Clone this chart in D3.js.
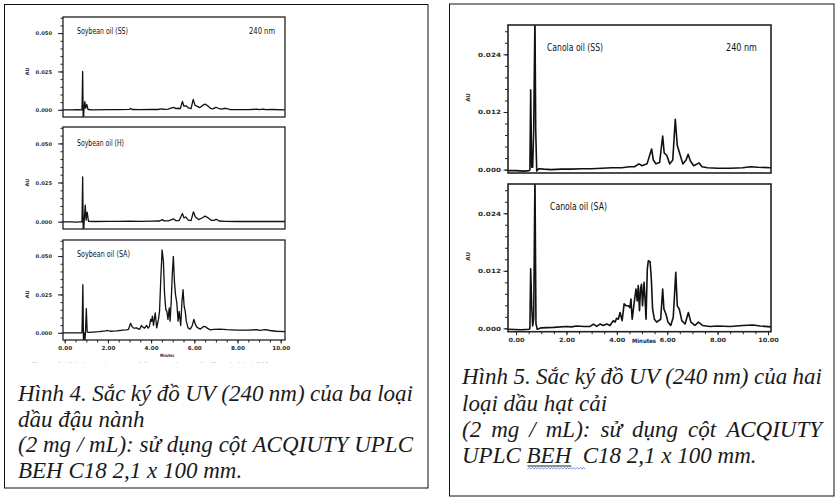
<!DOCTYPE html>
<html>
<head>
<meta charset="utf-8">
<script src="https://cdn.jsdelivr.net/npm/d3@7"></script>
<style>
  body { margin: 0; background: #fff; }
  svg { display: block; }
</style>
</head>
<body>
<script>
// ---- data (time in minutes, absorbance in AU) ----
const soyYMajor = [0, 0.025, 0.05];
const canYMajor = [0, 0.012, 0.024];
const xMajor = [0, 2, 4, 6, 8, 10];

const soySS = [[-0.08,0],[0.3,0],[0.6,0.0001],[0.8,0],[0.83,0.025],[0.86,-0.01],[0.89,0],[0.93,0.0053],
  [0.97,0.001],[1.02,0.0035],[1.08,0.0002],[1.3,0],[2.0,0.0001],[2.5,0.0001],[3.0,0.0003],[3.05,0.0009],
  [3.12,0.0002],[3.5,0.0001],[4.0,0.0002],[4.3,0.0002],[4.5,0.0006],[4.6,0.0003],[4.8,0.0004],[4.95,0.0012],
  [5.05,0.0016],[5.15,0.0008],[5.25,0.001],[5.35,0.0007],[5.45,0.0055],[5.52,0.0022],[5.62,0.0027],[5.72,0.0012],
  [5.85,0.0008],[5.95,0.0068],[6.03,0.003],[6.12,0.0024],[6.25,0.0014],[6.4,0.003],[6.5,0.0037],[6.62,0.0026],
  [6.75,0.001],[6.85,0.0006],[7.0,0.0016],[7.12,0.001],[7.25,0.0005],[7.45,0.001],[7.65,0.0002],[8.0,0.0001],
  [8.5,0.0001],[8.9,0.0004],[9.0,0.0001],[9.2,0.0005],[9.3,0.0001],[9.6,0.0002],[10.2,0]];

const soyH = [[-0.08,-0.0002],[0.3,-0.0001],[0.5,-0.0003],[0.7,-0.0001],[0.8,-0.0002],[0.83,0.0286],[0.86,-0.01],
  [0.9,0],[0.95,0.0106],[0.99,0.001],[1.04,0.006],[1.1,0.0002],[1.4,0.0001],[2.0,0.0002],[2.5,0.0002],[3.0,0.0003],
  [3.5,0.0002],[4.0,0.0003],[4.4,0.0004],[4.52,0.0013],[4.6,0.0005],[4.8,0.0005],[4.98,0.0014],[5.05,0.0017],
  [5.15,0.0006],[5.3,0.0007],[5.45,0.0052],[5.52,0.0024],[5.6,0.003],[5.72,0.001],[5.85,0.0007],[5.96,0.0063],
  [6.05,0.003],[6.2,0.0013],[6.38,0.0025],[6.5,0.0035],[6.62,0.0026],[6.78,0.0009],[6.9,0.0008],[7.02,0.0015],
  [7.15,0.0004],[7.4,0.0002],[8.0,0.0001],[9.0,0.0001],[10.2,0.0001]];

const soySA = [[-0.08,0],[0.5,0],[0.8,0],[0.84,0.0314],[0.87,-0.008],[0.9,0],[0.92,-0.008],[0.96,0],[1.0,0.0158],
  [1.04,0.0005],[1.1,0.0003],[1.3,0.0005],[1.6,0.0008],[1.9,0.0012],[2.0,0.0015],[2.1,0.001],[2.4,0.0013],
  [2.7,0.0017],[2.85,0.0019],[2.95,0.0022],[3.05,0.0062],[3.12,0.004],[3.17,0.0032],[3.25,0.003],[3.33,0.0032],
  [3.42,0.0024],[3.48,0.0024],[3.55,0.0048],[3.63,0.0035],[3.7,0.003],[3.79,0.0048],[3.86,0.003],[3.92,0.004],
  [3.98,0.0087],[4.02,0.0075],[4.06,0.0108],[4.11,0.0048],[4.19,0.013],[4.26,0.0032],[4.34,0.0087],[4.39,0.014],
  [4.45,0.0357],[4.51,0.0541],[4.57,0.0465],[4.62,0.026],[4.68,0.0151],[4.73,0.014],[4.78,0.0087],[4.84,0.0162],
  [4.88,0.0076],[4.93,0.0205],[4.98,0.0379],[5.03,0.0498],[5.08,0.0335],[5.13,0.0249],[5.19,0.0195],[5.25,0.0076],
  [5.3,0.014],[5.37,0.0048],[5.43,0.0205],[5.48,0.0281],[5.53,0.0173],[5.58,0.014],[5.63,0.0076],[5.71,0.0032],
  [5.81,0.0024],[5.9,0.0045],[5.98,0.0087],[6.05,0.0055],[6.13,0.0035],[6.28,0.0024],[6.43,0.0041],[6.52,0.004],
  [6.6,0.003],[6.74,0.0019],[6.9,0.0022],[7.2,0.0024],[7.5,0.002],[8.0,0.0018],[8.5,0.0018],[8.9,0.002],
  [9.0,0.0016],[9.3,0.002],[9.5,0.0015],[9.8,0.001],[10.2,0.0007]];

const canSS = [[-0.32,-0.0002],[0.0,-0.0002],[0.3,-0.0003],[0.52,-0.0002],[0.55,0],[0.58,0.0166],[0.62,0.0005],
  [0.66,0.0005],[0.7,0.0083],[0.75,0.032],[0.78,0.0083],[0.82,-0.0003],[0.9,0.0002],[1.1,0.0001],[1.4,0],
  [1.8,0.0001],[2.2,0.0001],[2.6,0.0002],[3.0,0.0002],[3.4,0.0003],[3.8,0.0004],[4.2,0.0004],[4.5,0.0006],
  [4.7,0.0006],[4.88,0.0012],[5.0,0.0008],[5.2,0.0012],[5.38,0.0043],[5.45,0.002],[5.55,0.0012],[5.7,0.0015],
  [5.82,0.007],[5.88,0.0035],[5.98,0.003],[6.1,0.0012],[6.22,0.002],[6.32,0.0105],[6.4,0.005],[6.46,0.004],
  [6.62,0.0012],[6.75,0.002],[6.83,0.0032],[6.92,0.0018],[7.05,0.0008],[7.27,0.0014],[7.38,0.0006],[7.6,0.0004],
  [8.0,0.0003],[8.5,0.0003],[9.0,0.0004],[9.3,0.0006],[9.6,0.0005],[10.12,0.0004]];

const canSA = [[-0.32,-0.0002],[0.2,-0.0003],[0.52,-0.0002],[0.55,0],[0.58,0.0124],[0.62,0.0047],[0.66,0.0005],
  [0.7,0.002],[0.75,0.032],[0.79,0.001],[0.84,-0.0002],[1.0,0.0001],[1.5,0.0002],[2.0,0.0004],[2.2,0.0003],
  [2.4,0.0005],[2.7,0.0004],[2.94,0.0004],[3.07,0.0009],[3.2,0.0004],[3.33,0.0009],[3.46,0.0006],[3.6,0.0009],
  [3.73,0.0006],[3.86,0.0016],[3.93,0.0013],[3.99,0.0021],[4.06,0.0019],[4.13,0.0033],[4.21,0.0016],[4.29,0.0051],
  [4.37,0.0047],[4.46,0.0047],[4.52,0.0043],[4.56,0.0061],[4.61,0.0019],[4.69,0.0054],[4.76,0.0082],[4.81,0.0057],
  [4.85,0.0089],[4.9,0.0037],[4.94,0.0082],[4.98,0.0092],[5.02,0.0047],[5.08,0.0096],[5.12,0.0061],[5.16,0.0019],
  [5.21,0.0124],[5.25,0.0141],[5.32,0.0139],[5.37,0.0103],[5.42,0.004],[5.49,0.0019],[5.58,0.0013],[5.74,0.0019],
  [5.82,0.0082],[5.87,0.004],[5.95,0.003],[6.03,0.0013],[6.14,0.0006],[6.24,0.0023],[6.34,0.0117],[6.4,0.0047],
  [6.48,0.004],[6.58,0.0016],[6.71,0.0009],[6.84,0.0033],[6.94,0.0013],[7.1,0.0006],[7.24,0.0013],[7.4,0.0006],
  [7.7,0.0004],[8.0,0.0005],[8.5,0.0004],[9.0,0.0006],[9.4,0.0007],[9.7,0.0005],[10.12,0.0003]];

const captionLeft = ["Hình 4. Sắc ký đồ UV (240 nm) của ba loại", "dầu đậu nành",
  "(2 mg / mL): sử dụng cột ACQIUTY UPLC", "BEH C18 2,1 x 100 mm."];
const captionRight = ["Hình 5. Sắc ký đồ UV (240 nm) của hai", "loại dầu hạt cải",
  "(2 mg / mL): sử dụng cột ACQIUTY"];

const svg = d3.select('body').append('svg')
  .attr('width', 840)
  .attr('height', 503);

// outer boxes
svg.append('rect').attr('x', 4.5).attr('y', 4.5).attr('width', 423.5).attr('height', 483.5)
  .attr('fill', 'none').attr('stroke', '#111').attr('stroke-width', 1);
svg.append('rect').attr('x', 449.5).attr('y', 4).attr('width', 384.5).attr('height', 492)
  .attr('fill', 'none').attr('stroke', '#111').attr('stroke-width', 1);

function panel(p) {
  const x = d3.scaleLinear().domain(p.xDom).range([p.left, p.right]);
  const y = d3.scaleLinear().domain(p.yDom).range([p.bottom, p.top]);
  const g = svg.append('g');

  g.append('clipPath').attr('id', 'clip-' + p.id)
    .append('rect')
    .attr('x', p.left).attr('y', p.top)
    .attr('width', p.right - p.left).attr('height', p.bottom - p.top);

  const line = d3.line().x(d => x(d[0])).y(d => y(d[1]));
  g.append('path')
    .datum(p.data)
    .attr('clip-path', `url(#clip-${p.id})`)
    .attr('d', line)
    .attr('fill', 'none')
    .attr('stroke', '#111')
    .attr('stroke-width', p.lw)
    .attr('stroke-linejoin', 'round');

  // y axis: minor then major ticks
  g.append('g')
    .attr('transform', `translate(${p.left},0)`)
    .attr('color', '#222')
    .call(d3.axisLeft(y).tickValues(p.yMinor).tickSize(p.minorLen).tickFormat(''))
    .call(a => a.select('.domain').remove());

  const ya = g.append('g')
    .attr('transform', `translate(${p.left},0)`)
    .attr('color', '#222')
    .call(d3.axisLeft(y).tickValues(p.yMajor).tickSize(p.majorLen).tickPadding(p.yPad)
      .tickFormat(d3.format('.3f')));
  ya.select('.domain').remove();
  ya.selectAll('text')
    .attr('font-family', 'DejaVu Sans')
    .attr('font-weight', 'bold')
    .attr('font-size', p.labSize)
    .attr('fill', '#2e2a26')
    .each(function() {
      const w = this.getComputedTextLength() * p.labStretch;
      d3.select(this).attr('textLength', w).attr('lengthAdjust', 'spacingAndGlyphs');
    });

  if (p.showX) {
    g.append('g')
      .attr('transform', `translate(0,${p.bottom})`)
      .attr('color', '#222')
      .call(d3.axisBottom(x).tickValues(d3.range(0, 10.01, 0.5)).tickSize(2.5).tickFormat(''))
      .call(a => a.select('.domain').remove());
    const xa = g.append('g')
      .attr('transform', `translate(0,${p.bottom})`)
      .attr('color', '#222')
      .call(d3.axisBottom(x).tickValues(xMajor).tickSize(3.5).tickPadding(p.xPad)
        .tickFormat(d3.format('.2f')));
    xa.select('.domain').remove();
    xa.selectAll('text')
      .attr('font-family', 'DejaVu Sans')
      .attr('font-weight', 'bold')
      .attr('font-size', p.xLabSize)
      .attr('fill', '#2e2a26')
      .each(function() {
        const w = this.getComputedTextLength() * p.xLabStretch;
        d3.select(this).attr('textLength', w).attr('lengthAdjust', 'spacingAndGlyphs');
      });
    g.append('text')
      .attr('x', p.minX).attr('y', p.minY)
      .attr('text-anchor', 'middle')
      .attr('font-family', 'DejaVu Sans')
      .attr('font-weight', 'bold')
      .attr('font-size', p.minSize)
      .attr('fill', '#22223a')
      .attr('textLength', p.minW).attr('lengthAdjust', 'spacingAndGlyphs')
      .text('Minutes');
  }

  // frame
  g.append('rect')
    .attr('x', p.left).attr('y', p.top)
    .attr('width', p.right - p.left).attr('height', p.bottom - p.top)
    .attr('fill', 'none')
    .attr('stroke', '#222')
    .attr('stroke-width', p.frameW);

  // AU label
  g.append('text')
    .attr('transform', `translate(${p.auX},${y(p.auAt)}) rotate(-90)`)
    .attr('text-anchor', 'middle')
    .attr('font-family', 'DejaVu Sans')
    .attr('font-weight', 'bold')
    .attr('font-size', p.auSize)
    .attr('fill', '#333')
    .text('AU');

  // titles
  g.append('text')
    .attr('x', p.titleX).attr('y', p.titleY)
    .attr('font-family', 'DejaVu Sans Condensed, DejaVu Sans')
    .attr('font-size', p.titleSize)
    .attr('fill', '#111')
    .attr('textLength', p.titleW).attr('lengthAdjust', 'spacingAndGlyphs')
    .text(p.title);
  if (p.nm) {
    g.append('text')
      .attr('x', p.nmX).attr('y', p.titleY)
      .attr('font-family', 'DejaVu Sans Condensed, DejaVu Sans')
      .attr('font-size', p.titleSize)
      .attr('fill', '#111')
      .attr('textLength', p.nmW).attr('lengthAdjust', 'spacingAndGlyphs')
      .text('240 nm');
  }
}

const soyBase = {
  xDom: [-0.08, 10.2], yDom: [-0.0047, 0.0605], left: 63, right: 285,
  yMajor: soyYMajor, yMinor: d3.range(0, 0.0601, 0.005),
  majorLen: 5, minorLen: 2.5, yPad: 6, labSize: 5.2, labStretch: 1,
  lw: 1.3, frameW: 1.3, auX: 29, auAt: 0.025, auSize: 5,
  titleX: 77, titleSize: 8.8, xPad: 3, xLabSize: 5.4, xLabStretch: 1.05,
  minX: 167, minY: 357, minSize: 4.4, minW: 14
};
panel(Object.assign({}, soyBase, { id: 's1', top: 17, bottom: 117, data: soySS,
  title: 'Soybean oil (SS)', titleY: 34, titleW: 51, nm: true, nmX: 249, nmW: 26 }));
panel(Object.assign({}, soyBase, { id: 's2', top: 127, bottom: 229, data: soyH,
  title: 'Soybean oil (H)', titleY: 146, titleW: 47 }));
panel(Object.assign({}, soyBase, { id: 's3', top: 240, bottom: 340, data: soySA,
  title: 'Soybean oil (SA)', titleY: 257, titleW: 53, showX: true }));

const canBase = {
  xDom: [-0.32, 10.12], yDom: [-0.0007, 0.0301], left: 508, right: 771,
  yMajor: canYMajor, yMinor: d3.range(0, 0.0289, 0.0024),
  majorLen: 4.5, minorLen: 3, yPad: 2.5, labSize: 5.8, labStretch: 1.25,
  lw: 1.6, frameW: 1.6, auX: 470, auAt: 0.015, auSize: 5.5,
  titleSize: 10.5, xPad: 3, xLabSize: 5.8, xLabStretch: 1.12,
  minX: 644, minY: 343, minSize: 6, minW: 24
};
panel(Object.assign({}, canBase, { id: 'c1', top: 25, bottom: 173, data: canSS,
  title: 'Canola oil (SS)', titleX: 547, titleY: 51, titleW: 56, nm: true, nmX: 726, nmW: 31 }));
panel(Object.assign({}, canBase, { id: 'c2', top: 184, bottom: 331.7, data: canSA,
  title: 'Canola oil (SA)', titleX: 550, titleY: 210, titleW: 57, showX: true }));

// cut-off line of text under the left figure (only its top is visible)
svg.append('clipPath').attr('id', 'cut')
  .append('rect').attr('x', 20).attr('y', 357).attr('width', 300).attr('height', 5.5);
svg.append('text')
  .attr('clip-path', 'url(#cut)')
  .attr('x', 32).attr('y', 366.5)
  .attr('font-family', 'Liberation Sans')
  .attr('font-size', 8)
  .attr('fill', '#888')
  .attr('textLength', 252).attr('lengthAdjust', 'spacingAndGlyphs')
  .text('Figure 4. UV chromatograms of three soybean oils (2 mg/mL) at 240 nm.');

// captions
function captionGroup() {
  return svg.append('g')
    .attr('font-family', 'Liberation Serif, Times New Roman, serif')
    .attr('font-style', 'italic')
    .attr('font-size', 23)
    .attr('fill', '#1a1a1a');
}

function justified(g, text, x, y, width) {
  const words = text.split(' ');
  const nodes = words.map(w => g.append('text').attr('y', y).text(w));
  const lens = nodes.map(n => n.node().getComputedTextLength());
  const gap = (width - d3.sum(lens)) / (words.length - 1);
  let cx = x;
  nodes.forEach((n, i) => { n.attr('x', cx); cx += lens[i] + gap; });
}

const capL = captionGroup();
justified(capL, captionLeft[0], 18, 401, 395);
capL.append('text').attr('x', 18).attr('y', 427).text(captionLeft[1]);
justified(capL, captionLeft[2], 18, 452, 395);
capL.append('text').attr('x', 18).attr('y', 478).text(captionLeft[3]);

const capR = captionGroup();
justified(capR, captionRight[0], 462, 384, 360);
capR.append('text').attr('x', 462).attr('y', 411).text(captionRight[1]);
justified(capR, captionRight[2], 462, 437, 360);

// last line with spell-check squiggle under "BEH  C"
const l4y = 463;
const t1 = capR.append('text').attr('x', 462).attr('y', l4y).style('white-space', 'pre').text('UPLC ');
const w1 = t1.node().getComputedTextLength();
const t2 = capR.append('text').attr('x', 462 + w1).attr('y', l4y).text('BEH');
const w2 = t2.node().getComputedTextLength();
const gapT = capR.append('text').attr('x', -100).attr('y', -100).style('white-space', 'pre').text('  ');
const wGap = gapT.node().getComputedTextLength();
gapT.remove();
capR.append('text').attr('x', 462 + w1 + w2 + wGap).attr('y', l4y).text('C18 2,1 x 100 mm.');

const bx0 = 462 + w1 + 1, bx1 = 462 + w1 + w2 + wGap + 2;
svg.append('line')
  .attr('x1', bx0).attr('x2', 462 + w1 + w2)
  .attr('y1', l4y + 3).attr('y2', l4y + 3)
  .attr('stroke', '#1a1a1a').attr('stroke-width', 1);
let sq = `M${bx0},${l4y + 6}`;
for (let xx = bx0, k = 0; xx < bx1; xx += 1.6, k++) {
  sq += `L${xx + 1.6},${l4y + (k % 2 ? 6 : 4.6)}`;
}
svg.append('path').attr('d', sq)
  .attr('fill', 'none').attr('stroke', '#4a78d6').attr('stroke-width', 0.8);
</script>
</body>
</html>
